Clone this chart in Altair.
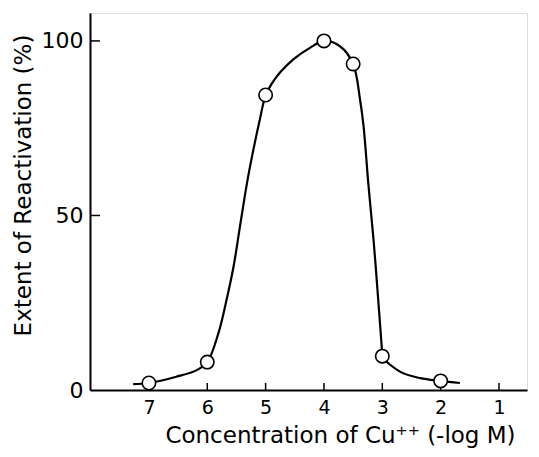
import altair as alt
import pandas as pd

# Measured points
pt_x = [7, 6, 5, 4, 3.5, 3, 2]
pt_y = [2, 8, 84.5, 100, 93.4, 9.7, 2.6]

# Hand-drawn smooth curve
curve_x = [7.27, 7.0, 6.53, 6.18, 6.0, 5.81, 5.67, 5.55, 5.44, 5.32, 5.21, 5.10, 5.0,
           4.90, 4.75, 4.52, 4.24, 4.0, 3.72, 3.5, 3.38, 3.32, 3.24, 3.15, 3.07, 3.01, 3.0,
           2.69, 2.35, 2.0, 1.67]
curve_y = [1.7, 2.0, 3.8, 5.7, 8.0, 16.2, 25.8, 35.3, 46.8, 59.2, 68.8, 77.4, 84.5,
           87.6, 91.0, 94.8, 98.0, 100.0, 98.4, 93.4, 83.0, 75.4, 59.2, 43.0, 25.8, 12.4, 9.7,
           5.2, 3.4, 2.6, 2.0]

x_ticks = [7, 6, 5, 4, 3, 2, 1]
y_ticks = [0, 50, 100]
y_tick_marks = [50, 100]

FONT = "DejaVu Sans"
W, H = 437, 377

pts = pd.DataFrame({"x": pt_x, "y": pt_y})
curve = pd.DataFrame({"x": curve_x, "y": curve_y, "order": list(range(len(curve_x)))})

xscale = alt.Scale(domain=[0.52, 8.01], reverse=True, nice=False, zero=False)
yscale = alt.Scale(domain=[0, 108], nice=False)

xaxis = alt.Axis(values=x_ticks, title="Concentration of Cu⁺⁺ (-log M)", ticks=False,
                 domainColor="black", domainWidth=2, labelFont=FONT, labelFontSize=19,
                 labelColor="black", labelPadding=8, titleFont=FONT, titleFontSize=23,
                 titleFontWeight="normal", titleColor="black", titlePadding=7, grid=False,
                 titleX=250, titleAlign="center", format="d")
yaxis = alt.Axis(values=y_ticks, title="Extent of Reactivation (%)", ticks=False,
                 domainColor="black", domainWidth=2, labelFont=FONT, labelFontSize=22,
                 labelColor="black", labelPadding=7, titleFont=FONT, titleFontSize=23,
                 titleFontWeight="normal", titleColor="black", titlePadding=6, grid=False,
                 titleY=172, titleAlign="center")

line = alt.Chart(curve).mark_line(color="black", strokeWidth=2.2, interpolate="catmull-rom").encode(
    x=alt.X("x:Q", scale=xscale, axis=xaxis),
    y=alt.Y("y:Q", scale=yscale, axis=yaxis),
    order="order:Q",
)

points = alt.Chart(pts).mark_point(shape="circle", filled=True, fill="white", stroke="black",
                                   strokeWidth=1.6, size=180, opacity=1).encode(
    x=alt.X("x:Q", scale=xscale),
    y=alt.Y("y:Q", scale=yscale),
)

xt = alt.Chart(pd.DataFrame({"x": x_ticks})).mark_rule(color="black", strokeWidth=1.5).encode(
    x=alt.X("x:Q", scale=xscale),
    y=alt.value(H),
    y2=alt.value(H - 7),
)

yt = alt.Chart(pd.DataFrame({"y": y_tick_marks})).mark_rule(color="black", strokeWidth=1.5).encode(
    y=alt.Y("y:Q", scale=yscale),
    x=alt.value(0),
    x2=alt.value(10),
)

chart = alt.layer(line, xt, yt, points).properties(
    width=W, height=H,
    autosize=alt.AutoSizeParams(type="none"),
    padding={"left": 90, "top": 13, "right": 12, "bottom": 67},
).configure_view(stroke=None).configure(background="white")

chart.save("out.html", embed_options={"renderer": "svg", "actions": False})
